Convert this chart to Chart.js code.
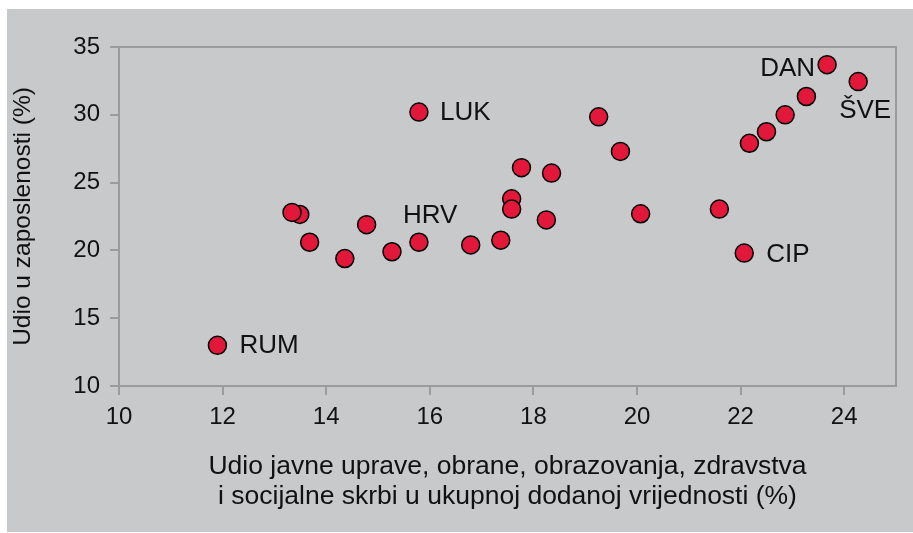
<!DOCTYPE html>
<html>
<head>
<meta charset="utf-8">
<script src="https://cdn.jsdelivr.net/npm/chart.js@4.4.1/dist/chart.umd.min.js"></script>
<style>
  html, body { margin: 0; padding: 0; background: #fff; }
  #panel { position: absolute; left: 7px; top: 9px; width: 906px; height: 523px; background: #c8c9cb; }
</style>
</head>
<body>
<div id="panel"><canvas id="chart" width="906" height="523"></canvas></div>
<script>
// values
const X_VALUES = [11.9, 13.49, 13.34, 13.68, 14.36, 14.78, 15.27, 15.79, 15.79, 16.79, 17.37, 17.58, 17.58, 17.77,
                  18.35, 18.25, 19.26, 19.68, 20.07, 21.59, 22.07, 22.17, 22.5, 22.86, 23.27, 23.67, 24.27];
const Y_VALUES = [13.0, 22.65, 22.8, 20.6, 19.4, 21.9, 19.9, 20.6, 30.2, 20.4, 20.75, 23.8, 23.05, 26.1,
                  25.7, 22.25, 29.85, 27.3, 22.7, 23.05, 19.8, 27.9, 28.75, 30.0, 31.35, 33.7, 32.45];
const POINT_NAMES = ['RUM', '', '', '', '', '', '', 'HRV', 'LUK', '', '', '', '', '',
                     '', '', '', '', '', '', 'CIP', '', '', '', '', 'DAN', 'ŠVE'];
const X_TICKS = [10, 12, 14, 16, 18, 20, 22, 24];
const Y_TICKS = [10, 15, 20, 25, 30, 35];
const X_TITLE = ['Udio javne uprave, obrane, obrazovanja, zdravstva', 'i socijalne skrbi u ukupnoj dodanoj vrijednosti (%)'];
const Y_TITLE = 'Udio u zaposlenosti (%)';

const AXIS_COLOR = '#9a9b9d';
const FONT = 'Liberation Sans, Arial, sans-serif';

// where each country name sits next to its marker
const LABEL_PLACEMENT = {
    RUM: { dx: 22, dy: 1, align: 'left' },
    LUK: { dx: 21, dy: 1, align: 'left' },
    HRV: { dx: -16, dy: -26, align: 'left' },
    CIP: { dx: 22, dy: 2, align: 'left' },
    DAN: { dx: -12, dy: 4, align: 'right' },
    'ŠVE': { dx: -19, dy: 29, align: 'left' }
};

const points = X_VALUES.map((x, i) => ({ x: x, y: Y_VALUES[i] }));

const frame = {
    id: 'frame',
    beforeDatasetsDraw(chart) {
        const { ctx, chartArea: a } = chart;
        ctx.save();
        ctx.strokeStyle = AXIS_COLOR;
        ctx.lineWidth = 2;
        ctx.strokeRect(a.left, a.top, a.right - a.left, a.bottom - a.top);
        ctx.restore();
    }
};

const nameLabels = {
    id: 'nameLabels',
    afterDatasetsDraw(chart) {
        const { ctx, scales } = chart;
        ctx.save();
        ctx.font = '26px ' + FONT;
        ctx.fillStyle = '#111';
        ctx.textBaseline = 'middle';
        POINT_NAMES.forEach((name, i) => {
            if (!name) return;
            const p = LABEL_PLACEMENT[name];
            ctx.textAlign = p.align;
            ctx.fillText(name, scales.x.getPixelForValue(X_VALUES[i]) + p.dx, scales.y.getPixelForValue(Y_VALUES[i]) + p.dy);
        });
        ctx.restore();
    }
};

new Chart(document.getElementById('chart'), {
    type: 'scatter',
    data: {
        datasets: [{
            data: points,
            backgroundColor: '#e2183a',
            borderColor: '#000',
            borderWidth: 1.5,
            pointRadius: 9,
            pointHoverRadius: 9
        }]
    },
    options: {
        responsive: false,
        animation: false,
        layout: { padding: { left: 0, top: 38, right: 17, bottom: 0 } },
        plugins: { legend: { display: false }, tooltip: { enabled: false } },
        scales: {
            x: {
                type: 'linear', min: 10, max: 25,
                afterBuildTicks: s => { s.ticks = X_TICKS.map(v => ({ value: v })); },
                afterFit: s => { s.height = 146; },
                border: { display: false },
                grid: { drawOnChartArea: false, drawTicks: true, tickLength: 9, color: AXIS_COLOR, lineWidth: 2 },
                ticks: { color: '#111', padding: 8, font: { family: FONT, size: 24 }, maxRotation: 0 },
                title: { display: true, text: X_TITLE, color: '#111', font: { family: FONT, size: 26.5, lineHeight: 1.132 }, padding: { top: 0, bottom: 20 } }
            },
            y: {
                type: 'linear', min: 10, max: 35,
                afterBuildTicks: s => { s.ticks = Y_TICKS.map(v => ({ value: v })); },
                afterFit: s => { s.width = 112; },
                border: { display: false },
                grid: { drawOnChartArea: false, drawTicks: true, tickLength: 9, color: AXIS_COLOR, lineWidth: 2 },
                ticks: { color: '#111', padding: 10, font: { family: FONT, size: 24 } },
                title: { display: true, text: Y_TITLE, color: '#111', font: { family: FONT, size: 24.5 }, padding: { top: 2, bottom: 0 } }
            }
        }
    },
    plugins: [frame, nameLabels]
});
</script>
</body>
</html>
